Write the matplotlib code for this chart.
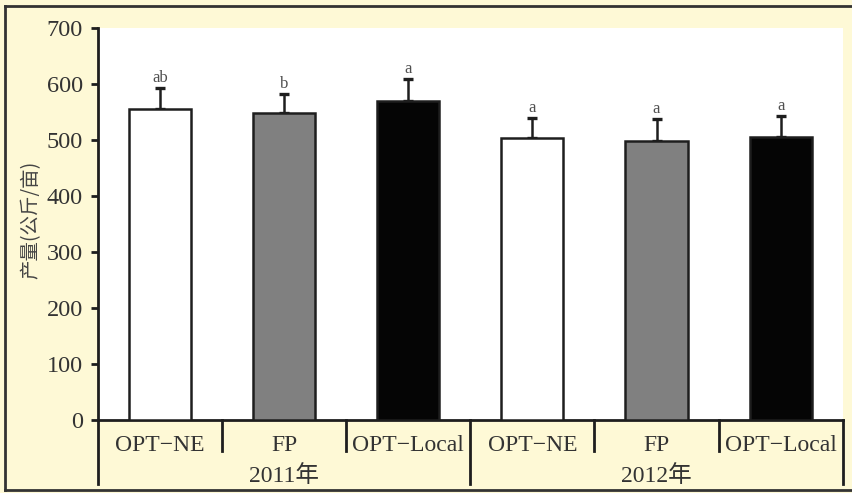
import matplotlib
matplotlib.use("Agg")
import matplotlib.pyplot as plt
from matplotlib.lines import Line2D

# data
treatments = ["OPT\u2212NE", "FP", "OPT\u2212Local", "OPT\u2212NE", "FP", "OPT\u2212Local"]
years = ["2011年", "2012年"]
yields = [555, 548, 570, 504, 498, 505]
errors = [38, 34, 39, 35, 39, 38]
letters = ["ab", "b", "a", "a", "a", "a"]
bar_colors = ["white", "#808080", "#050505", "white", "#808080", "#050505"]

plt.rcParams["font.family"] = ["Liberation Serif", "Noto Sans CJK SC"]
txt = "#333333"
bg = "#FEF9D6"

fig = plt.figure(figsize=(8.53, 4.93), dpi=100, facecolor=bg)
ax = fig.add_axes([0.1149, 0.148, 0.873, 0.795])
ax.set_facecolor("white")

x = list(range(len(yields)))
ax.bar(x, yields, width=0.5, color=bar_colors, edgecolor="#1e1e1e",
       linewidth=1.8, zorder=3)
ax.errorbar(x, yields, yerr=[[0] * len(errors), errors], fmt="none",
            ecolor="#1e1e1e", elinewidth=1.8, capsize=3.5, capthick=2.4, zorder=2)
for xi, y, e, lab in zip(x, yields, errors, letters):
    ax.text(xi, y + e + 4, lab, ha="center", va="bottom", fontsize=12, color="#505050")

ax.set_xlim(-0.5, len(yields) - 0.5)
ax.set_ylim(0, 700)
ax.set_yticks(range(0, 701, 100))
ax.tick_params(axis="y", direction="out", length=5, width=2, color="#1e1e1e",
               labelsize=17.5, labelcolor=txt, pad=6)
ax.set_xticks([])
for s in ["top", "right"]:
    ax.spines[s].set_visible(False)
for s in ["left", "bottom"]:
    ax.spines[s].set_linewidth(2)
    ax.spines[s].set_color("#1e1e1e")

ax.set_ylabel("产量(公斤/亩)", fontsize=14, color="#444444",
              family=["Noto Sans CJK SC", "Liberation Serif"])
ax.yaxis.set_label_coords(-0.076, 0.51)

# category labels and group separators below the axis
trans = ax.get_xaxis_transform()
for xi, name in zip(x, treatments):
    ax.text(xi, -0.065, name, transform=trans, ha="center", va="center",
            fontsize=17, color=txt)
for b in range(len(yields) + 1):
    long = b % 3 == 0
    ax.add_line(Line2D([b - 0.5, b - 0.5], [0, -0.162 if long else -0.078],
                       transform=trans, color="#1e1e1e", lw=2, clip_on=False))
for g, yr in enumerate(years):
    ax.text(g * 3 + 1, -0.142, yr, transform=trans, ha="center", va="center",
            fontsize=17, color=txt)

# figure border (left, top, bottom)
fig.add_artist(Line2D([0.006, 0.006], [0.006, 0.988], color="#333333", lw=2))
fig.add_artist(Line2D([0.006, 1.0], [0.988, 0.988], color="#333333", lw=2))
fig.add_artist(Line2D([0.006, 1.0], [0.006, 0.006], color="#333333", lw=2))

fig.savefig("out.png", dpi=100, facecolor=bg)
